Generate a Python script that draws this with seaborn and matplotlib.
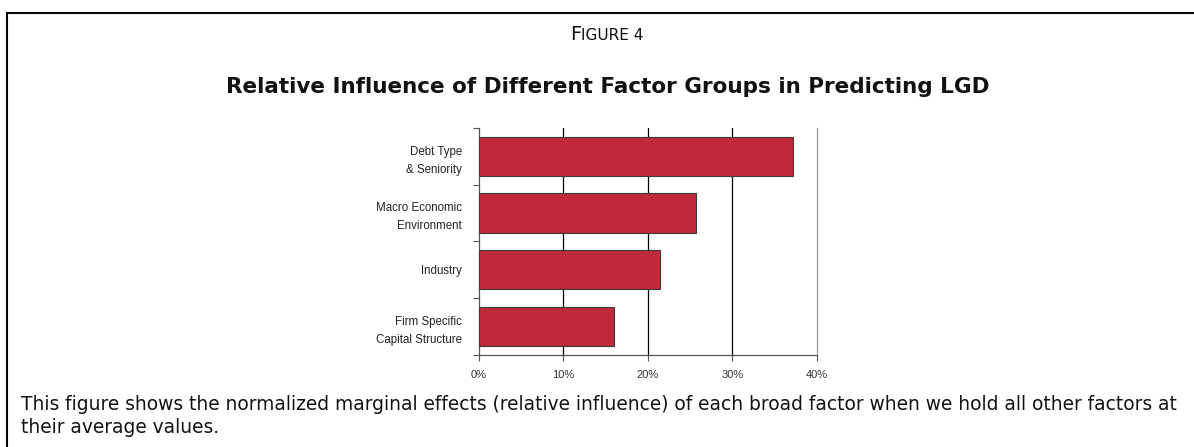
import numpy as np
import pandas as pd
import matplotlib.pyplot as plt
import seaborn as sns
from matplotlib.lines import Line2D
from matplotlib.ticker import FixedLocator, PercentFormatter

sns.set_theme(style="white")
plt.rcParams["font.family"] = ["DejaVu Sans"]

# === DATA ===
factors = ["Debt Type\n& Seniority", "Macro Economic\nEnvironment", "Industry",
           "Firm Specific\nCapital Structure"]
influence = [37.2, 25.7, 21.4, 16.0]
x_ticks = [0, 10, 20, 30, 40]

data = pd.DataFrame({"factor": factors, "influence": influence})

fig = plt.figure(figsize=(11.94, 4.47), dpi=100)
ax = fig.add_axes([0.401, 0.206, 0.283, 0.508])

sns.barplot(data=data, x="influence", y="factor", orient="h", ax=ax,
            color="#c0293a", saturation=1, edgecolor="#3a3a3a", linewidth=0.8,
            width=0.69, zorder=3)

ax.set_xlim(0, 40)
ax.set_ylim(3.5, -0.5)
ax.xaxis.set_major_locator(FixedLocator(x_ticks))
ax.xaxis.set_major_formatter(PercentFormatter(decimals=0))
ax.set_xlabel("")
ax.set_ylabel("")

# vertical grid lines
for v in x_ticks[1:-1]:
    ax.axvline(v, color="black", lw=0.9, zorder=1)

ax.spines["top"].set_visible(False)
ax.spines["right"].set_color("#9a9a9a")
ax.spines["right"].set_linewidth(0.9)
ax.spines["left"].set_color("#555555")
ax.spines["bottom"].set_color("#555555")
ax.spines["left"].set_linewidth(0.9)
ax.spines["bottom"].set_linewidth(0.9)

# category separators as ticks on the y axis
ax.tick_params(axis="y", which="major", length=0, pad=12, labelsize=8.3,
               labelcolor="#222222")
ax.set_yticks(np.arange(-0.5, 4.0, 1.0), minor=True)
ax.tick_params(axis="y", which="minor", length=4, width=0.8, color="#555555",
               direction="out", left=True)
ax.tick_params(axis="x", which="major", length=4, width=0.8, color="#555555",
               direction="out", bottom=True, labelsize=8, labelcolor="#333333",
               pad=7)
for lbl in ax.get_yticklabels() + ax.get_xticklabels():
    lbl.set_fontfamily("Liberation Sans")
for lbl in ax.get_yticklabels():
    lbl.set_horizontalalignment("right")
    lbl.set_multialignment("right")
    lbl.set_linespacing(1.65)
    lbl.set_y(lbl.get_position()[1])

# titles ("Figure 4" in small caps)
fig.text(0.4865, 0.9105, "F", ha="right", va="baseline", fontsize=14,
         color="#111111")
fig.text(0.4865, 0.9105, "IGURE 4", ha="left", va="baseline", fontsize=11,
         color="#111111")
fig.text(0.509, 0.792, "Relative Influence of Different Factor Groups in Predicting LGD",
         ha="center", va="baseline", fontsize=15.5, fontweight="bold",
         color="#111111")

fig.text(0.0176, 0.0828,
         "This figure shows the normalized marginal effects (relative influence) "
         "of each broad factor when we hold all other factors at",
         ha="left", va="baseline", fontsize=13.45, color="#111111")
fig.text(0.0176, 0.0313, "their average values.", ha="left", va="baseline",
         fontsize=13.45, color="#111111")

# outer frame (top rule and left rule only)
fig.add_artist(Line2D([0.0059, 1.0], [0.971, 0.971], transform=fig.transFigure,
                      color="black", lw=1.5))
fig.add_artist(Line2D([0.0059, 0.0059], [0.0, 0.971], transform=fig.transFigure,
                      color="black", lw=1.5))

fig.savefig("out.png", dpi=100)
